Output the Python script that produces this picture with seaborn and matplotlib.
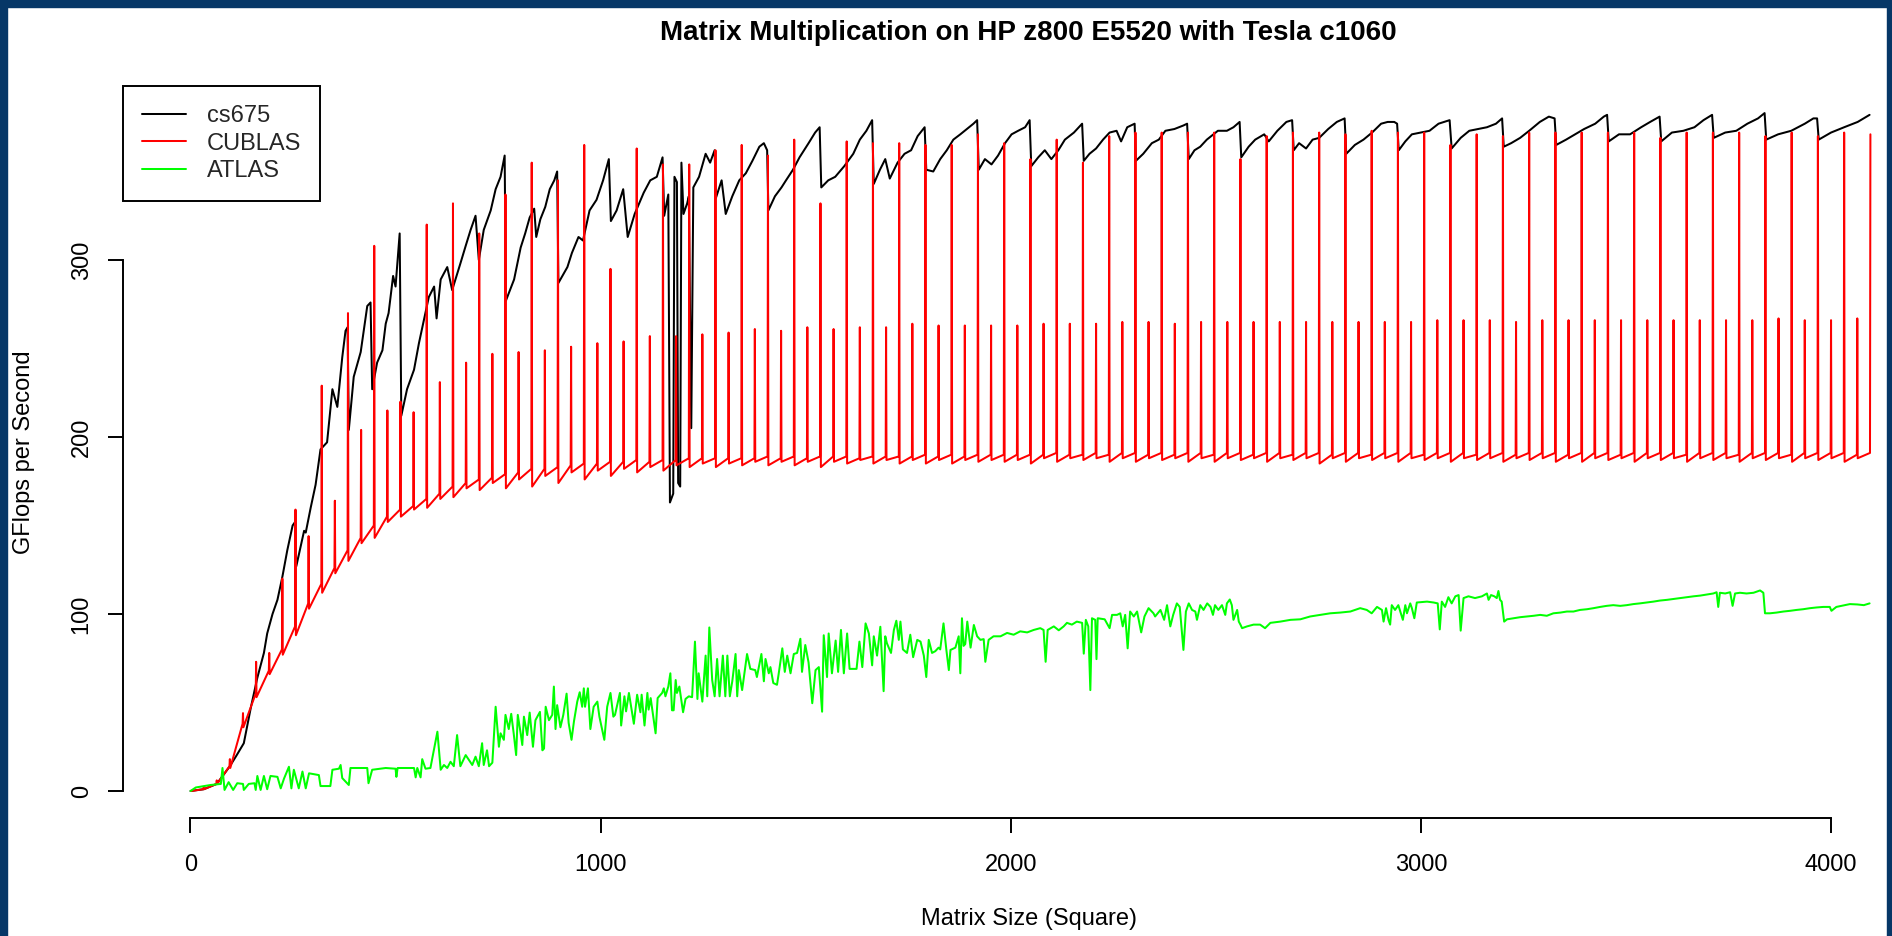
import numpy as np
import pandas as pd
import matplotlib
matplotlib.use("Agg")
import matplotlib.pyplot as plt
from matplotlib.patches import Rectangle
import seaborn as sns

# ---- data ----
title = "Matrix Multiplication on HP z800 E5520 with Tesla c1060"
series_names = ["cs675", "CUBLAS", "ATLAS"]
series_colors = ["black", "#FF0000", "#00FF00"]
x_ticks = [0, 1000, 2000, 3000, 4000]
y_ticks = [0, 100, 200, 300]

# cs675: sampled points (matrix size, GFlops)
cs675_x = [0, 32, 64, 96, 112, 130, 147, 163, 179, 187, 200, 212, 224, 236, 249, 255, 258, 277, 281, 293,
           305, 317, 333, 346, 358, 370, 378, 383, 386, 398, 415, 431, 439, 443, 455, 468, 476, 483, 494, 500,
           510, 514, 528, 545, 557, 569, 581, 594, 600, 610, 626, 638, 646, 658, 671, 683, 695, 703, 715, 732,
           744, 756, 766, 769, 789, 805, 816, 827, 838, 843, 853, 865, 876, 887, 894, 897, 919, 930, 946, 957,
           973, 990, 1006, 1020, 1025, 1039, 1055, 1066, 1083, 1105, 1121, 1137, 1151, 1155, 1165, 1169, 1177, 1180, 1186, 1189,
           1194, 1197, 1202, 1211, 1215, 1221, 1226, 1240, 1256, 1267, 1278, 1281, 1295, 1305, 1321, 1338, 1354, 1370, 1387, 1398,
           1406, 1409, 1425, 1441, 1452, 1469, 1485, 1507, 1523, 1534, 1538, 1555, 1572, 1594, 1616, 1632, 1648, 1662, 1666, 1681,
           1694, 1705, 1724, 1741, 1757, 1773, 1790, 1794, 1811, 1828, 1844, 1860, 1877, 1893, 1909, 1918, 1922, 1937, 1953, 1969,
           1986, 2002, 2018, 2035, 2046, 2050, 2067, 2083, 2099, 2116, 2132, 2154, 2174, 2178, 2192, 2208, 2225, 2241, 2258, 2269,
           2284, 2302, 2305, 2323, 2344, 2361, 2377, 2399, 2421, 2430, 2434, 2448, 2462, 2478, 2505, 2527, 2543, 2558, 2562, 2580,
           2596, 2618, 2629, 2650, 2672, 2686, 2690, 2703, 2720, 2736, 2752, 2774, 2795, 2814, 2818, 2839, 2860, 2881, 2903, 2919,
           2935, 2942, 2946, 2962, 2978, 3000, 3021, 3043, 3070, 3075, 3097, 3118, 3140, 3161, 3183, 3198, 3202, 3220, 3242, 3264,
           3290, 3312, 3326, 3330, 3354, 3376, 3398, 3425, 3446, 3454, 3458, 3483, 3510, 3537, 3559, 3582, 3586, 3612, 3640, 3667,
           3689, 3710, 3714, 3742, 3769, 3796, 3822, 3838, 3842, 3871, 3903, 3936, 3957, 3966, 3970, 4000, 4032, 4065, 4094]
cs675_y = [0, 1, 4, 14, 20, 27, 47, 64, 78, 89, 100, 108, 121, 136, 150, 152, 127, 147, 146, 160,
           173, 193, 197, 227, 217, 245, 260, 262, 204, 234, 248, 274, 276, 227, 242, 249, 264, 270, 291, 285,
           315, 212, 227, 238, 253, 266, 279, 285, 267, 289, 296, 283, 289, 298, 308, 317, 325, 300, 317, 328,
           340, 347, 359, 277, 289, 307, 315, 324, 329, 313, 323, 330, 340, 345, 350, 287, 296, 304, 313, 311,
           328, 334, 345, 357, 322, 328, 340, 313, 326, 338, 345, 347, 358, 325, 337, 163, 168, 347, 344, 174,
           172, 355, 326, 332, 336, 205, 341, 347, 360, 355, 362, 335, 345, 326, 336, 345, 349, 356, 364, 366,
           362, 328, 336, 341, 345, 351, 358, 366, 372, 375, 341, 345, 347, 353, 360, 368, 373, 379, 343, 351,
           357, 346, 355, 360, 362, 370, 375, 351, 350, 357, 362, 368, 371, 374, 377, 379, 351, 357, 354, 359,
           366, 371, 373, 375, 379, 353, 358, 362, 357, 362, 368, 372, 377, 356, 360, 363, 368, 372, 373, 367,
           375, 377, 356, 360, 366, 368, 373, 374, 376, 377, 357, 362, 364, 368, 373, 373, 375, 378, 358, 364,
           368, 371, 367, 373, 378, 379, 362, 366, 363, 368, 369, 374, 378, 380, 360, 365, 368, 372, 377, 378,
           378, 377, 362, 367, 371, 372, 373, 377, 379, 363, 369, 373, 374, 375, 377, 380, 364, 366, 369, 373,
           378, 381, 380, 365, 368, 371, 374, 377, 381, 382, 367, 371, 371, 375, 378, 381, 367, 372, 373, 375,
           379, 382, 369, 372, 373, 377, 380, 383, 368, 371, 373, 377, 380, 380, 368, 372, 375, 378, 382]

# CUBLAS: one entry per multiple of 32 (32, 64, ..., 4096)
cublas_sizes = list(range(32, 4097, 32))
cublas_peak = [2, 6, 18, 44, 73, 78, 120, 159, 144, 229, 164, 270, 204, 308, 215, 220,
               214, 320, 231, 332, 242, 315, 247, 337, 248, 355, 249, 345, 251, 365, 253, 295,
               254, 363, 257, 354, 257, 354, 258, 362, 259, 365, 261, 359, 260, 368, 262, 332,
               261, 367, 262, 366, 262, 366, 264, 365, 263, 365, 263, 371, 263, 366, 263, 357,
               264, 368, 264, 355, 264, 370, 265, 372, 265, 372, 264, 372, 265, 372, 265, 357,
               265, 370, 265, 372, 265, 372, 265, 371, 265, 373, 265, 372, 265, 372, 266, 365,
               266, 371, 266, 370, 265, 372, 266, 372, 266, 372, 266, 372, 266, 372, 266, 369,
               266, 372, 266, 372, 266, 372, 266, 370, 267, 372, 266, 370, 266, 372, 267, 371]
# value just before each spike
cublas_before = [1, 4, 14, 38, 55, 68, 80, 93, 106, 117, 126, 136, 143, 150, 155, 159,
                 161, 165, 168, 172, 174, 176, 177, 179, 180, 182, 182, 183, 184, 185, 185, 186,
                 186, 187, 186, 187, 187, 188, 188, 188, 188, 188, 188, 189, 188, 189, 188, 189,
                 189, 189, 188, 189, 189, 189, 189, 190, 189, 190, 189, 190, 190, 190, 190, 190,
                 190, 191, 190, 190, 191, 190, 191, 191, 190, 191, 190, 191, 191, 190, 191, 191,
                 190, 191, 191, 190, 191, 191, 190, 191, 191, 190, 191, 191, 191, 190, 191, 191,
                 191, 190, 191, 191, 190, 191, 191, 191, 190, 191, 191, 191, 190, 191, 191, 191,
                 191, 190, 191, 191, 191, 190, 191, 191, 191, 190, 191, 191, 191, 191, 190, 191]
# value just after each spike
cublas_after = [1, 4, 13, 36, 53, 66, 77, 88, 103, 112, 123, 130, 140, 143, 152, 155,
                159, 160, 165, 166, 171, 170, 174, 171, 176, 172, 178, 174, 180, 176, 181, 178,
                182, 180, 183, 181, 184, 183, 185, 183, 185, 184, 186, 184, 186, 184, 186, 183,
                186, 185, 187, 185, 187, 185, 187, 185, 187, 185, 187, 186, 187, 186, 187, 185,
                188, 186, 188, 187, 188, 186, 188, 186, 188, 187, 188, 186, 188, 186, 188, 187,
                188, 186, 188, 187, 188, 185, 188, 186, 188, 187, 188, 186, 188, 187, 188, 186,
                188, 187, 188, 186, 188, 187, 188, 186, 188, 186, 188, 187, 188, 186, 188, 187,
                188, 186, 188, 187, 188, 186, 188, 187, 188, 186, 188, 187, 188, 186, 188, 187]

# ATLAS: sampled points
atlas_x = [0, 13, 49, 74, 78, 83, 93, 104, 114, 128, 130, 142, 156, 159, 163, 171, 179, 187, 195, 212,
           220, 228, 240, 246, 252, 264, 273, 281, 289, 313, 317, 341, 346, 362, 366, 370, 386, 390, 431, 434,
           443, 476, 500, 502, 505, 545, 549, 553, 561, 565, 573, 585, 602, 610, 618, 626, 634, 642, 650, 658,
           671, 679, 687, 695, 703, 711, 715, 723, 728, 736, 744, 752, 756, 764, 768, 776, 782, 788, 794, 798,
           805, 809, 813, 821, 827, 835, 841, 852, 858, 862, 866, 874, 882, 886, 890, 894, 902, 909, 917, 922,
           929, 935, 943, 949, 955, 959, 962, 969, 975, 983, 992, 997, 1009, 1016, 1024, 1031, 1035, 1047, 1050, 1058,
           1062, 1069, 1081, 1089, 1097, 1100, 1107, 1114, 1117, 1122, 1126, 1134, 1139, 1150, 1154, 1158, 1165, 1170, 1174, 1178,
           1183, 1186, 1192, 1201, 1207, 1215, 1223, 1230, 1236, 1239, 1248, 1256, 1260, 1265, 1272, 1278, 1284, 1290, 1298, 1304,
           1309, 1315, 1321, 1329, 1333, 1337, 1345, 1357, 1365, 1377, 1381, 1392, 1398, 1402, 1410, 1414, 1421, 1430, 1434, 1443,
           1449, 1455, 1463, 1471, 1479, 1487, 1491, 1499, 1507, 1516, 1524, 1532, 1540, 1544, 1552, 1556, 1564, 1573, 1579, 1586,
           1593, 1601, 1607, 1617, 1624, 1631, 1638, 1646, 1654, 1662, 1666, 1674, 1682, 1690, 1694, 1698, 1708, 1715, 1721, 1727,
           1731, 1737, 1747, 1755, 1762, 1772, 1780, 1788, 1794, 1800, 1808, 1816, 1824, 1828, 1836, 1843, 1849, 1853, 1865, 1873,
           1877, 1881, 1885, 1889, 1894, 1902, 1910, 1918, 1926, 1934, 1938, 1946, 1958, 1975, 1991, 2007, 2023, 2040, 2056, 2072,
           2080, 2085, 2090, 2105, 2117, 2129, 2137, 2149, 2161, 2174, 2178, 2183, 2189, 2194, 2198, 2206, 2209, 2212, 2229, 2241,
           2247, 2259, 2267, 2273, 2279, 2285, 2291, 2300, 2308, 2318, 2326, 2336, 2348, 2352, 2365, 2374, 2381, 2389, 2396, 2405,
           2412, 2421, 2427, 2434, 2442, 2450, 2454, 2462, 2470, 2479, 2487, 2493, 2498, 2506, 2515, 2523, 2527, 2534, 2539, 2543,
           2552, 2556, 2560, 2564, 2576, 2592, 2608, 2620, 2633, 2657, 2682, 2706, 2730, 2755, 2779, 2803, 2828, 2852, 2868, 2880,
           2893, 2905, 2909, 2915, 2921, 2925, 2929, 2937, 2945, 2956, 2962, 2966, 2974, 2978, 2984, 2990, 3015, 3031, 3041, 3046,
           3051, 3059, 3067, 3075, 3084, 3092, 3097, 3104, 3116, 3132, 3149, 3161, 3165, 3171, 3179, 3185, 3189, 3193, 3197, 3203,
           3210, 3226, 3242, 3258, 3275, 3291, 3307, 3323, 3340, 3356, 3372, 3388, 3405, 3421, 3437, 3453, 3469, 3486, 3502, 3518,
           3534, 3551, 3567, 3583, 3600, 3616, 3632, 3648, 3665, 3681, 3697, 3713, 3721, 3725, 3729, 3742, 3754, 3760, 3766, 3778,
           3794, 3811, 3827, 3835, 3839, 3851, 3867, 3884, 3900, 3916, 3932, 3949, 3965, 3981, 3997, 4001, 4013, 4029, 4046, 4064,
           4080, 4094]
atlas_y = [0, 2, 3.4, 4, 13, 0.6, 5, 0.6, 4.4, 4, 0.6, 4, 4.4, 0.6, 8.5, 0.6, 8.5, 1, 8.5, 8,
           1.5, 7, 13.7, 1.5, 12, 1.5, 11, 1.5, 10, 9, 2.8, 2.8, 12, 12.6, 14.7, 7.3, 3.4, 13, 13, 4.4,
           12, 13, 12.6, 8, 13, 13, 7.7, 13, 7.7, 18, 12.6, 13, 33.5, 12, 14.7, 13, 16.5, 14, 31.6, 14,
           20.3, 17.5, 14.7, 19.4, 14, 27, 14.7, 23, 14, 16, 47.6, 25, 32.6, 28.9, 43, 35, 43.6, 32.6, 20.3, 43,
           32.6, 26, 42, 31.6, 44.3, 25, 40, 44.7, 23, 24, 47.6, 40, 43, 59, 35, 48.5, 36, 43, 55, 38.5,
           28.9, 39.4, 50.5, 55.8, 47.6, 58, 47.6, 58, 35, 47.6, 50.5, 42, 28.9, 47.6, 55.4, 42, 43, 55.4, 37, 53.5,
           45, 55.4, 38, 54.4, 44.5, 54.4, 37, 55.4, 46, 52.5, 46, 32.6, 52.5, 55.4, 58, 53.5, 59, 66.5, 45.6, 45.6,
           62.7, 55.4, 59, 44.5, 52, 53.5, 53, 84.4, 52, 66.5, 50.5, 76.5, 53.5, 92.4, 62.7, 53.5, 74.6, 53.5, 76.5, 53.5,
           76.5, 53.5, 62, 77.4, 53.5, 68.3, 57, 77.4, 69, 68.3, 64.4, 77.4, 62, 74.6, 66.5, 70, 61, 60, 66, 80.6,
           67.3, 76.5, 66.5, 77.4, 78, 86, 67.3, 82.5, 72.6, 49.6, 68.3, 70, 44.8, 88, 64.4, 89, 66.5, 85, 67.3, 91,
           66.5, 89, 69, 69, 69, 84.4, 70, 94.7, 89, 71, 87.4, 76.5, 92.8, 56.4, 87.4, 83.5, 78, 91, 96.2, 85.4,
           95.7, 80, 78, 88.3, 75.6, 85.4, 84.4, 76.5, 64.4, 85.4, 78, 79, 81, 80, 94.7, 79.7, 68.3, 79.7, 81, 87.4,
           66.5, 97.6, 82, 83, 95.7, 81, 93.8, 87.4, 85.4, 85.8, 73, 85.4, 87.4, 87.4, 89.3, 88.3, 90.2, 89.6, 91, 92,
           91, 73, 91, 93, 90.8, 93, 95, 94, 95.7, 95, 77.6, 96.7, 93, 57, 97.6, 96.7, 74.5, 97.6, 97, 92,
           99.5, 99.5, 100.4, 93, 99.5, 80.6, 101.4, 98.6, 101.4, 89.6, 98.6, 103.3, 100.4, 98.6, 102.3, 96.7, 105, 93, 99.5, 106,
           104, 79.7, 101.4, 106, 102.3, 101.4, 96.7, 105, 102.3, 106, 104, 99.5, 105, 102.3, 105, 99.5, 106, 108.2, 105, 96.7,
           102.3, 95.7, 94, 92, 93, 94, 94, 92, 95, 95.7, 96.7, 97, 98.6, 99.5, 100.4, 100.8, 101.4, 103.3, 102.3, 100.4,
           104, 102.3, 95.7, 103.3, 96.7, 94, 105, 102.3, 105, 96.7, 105, 100.4, 106, 103.3, 97.6, 106.5, 107, 106.5, 106, 91.3,
           107, 104, 109.5, 106, 110, 110.7, 90.6, 109, 110, 109, 110, 111.6, 108, 110.7, 110, 109, 113, 108, 107, 95.7,
           97, 97.6, 98.2, 98.6, 99, 99.5, 99, 100.4, 100.8, 101.4, 101.4, 102.3, 102.7, 103.3, 104, 104.6, 105, 104.6, 105, 105.6,
           106, 106.5, 107, 107.6, 108, 108.5, 109, 109.5, 110, 110.4, 111, 111.6, 112.3, 104, 112, 111.6, 112.3, 104.6, 111.6, 112,
           111.6, 112, 113.3, 112, 100.4, 100.4, 100.8, 101.4, 101.8, 102.3, 102.7, 103.3, 103.7, 104, 104, 101.8, 104, 104.8, 105.6, 105.4,
           105, 106]

# ---- build tables ----
df_cs675 = pd.DataFrame({"size": cs675_x, "gflops": cs675_y})

# each spike sits at a multiple of 32, the neighbours are the sizes next to it
cub_x, cub_y = [1], [0]
for s, b, p, a in zip(cublas_sizes, cublas_before, cublas_peak, cublas_after):
    cub_x += [s - 1, s, s + 1]
    cub_y += [b, p, a]
df_cublas = pd.DataFrame({"size": cub_x[:-1], "gflops": cub_y[:-1]})

df_atlas = pd.DataFrame({"size": atlas_x, "gflops": atlas_y})

# ---- style ----
sns.set_style("ticks")
plt.rcParams["font.family"] = ["Liberation Sans", "DejaVu Sans"]

W, H = 1892, 936
fig = plt.figure(figsize=(W / 100, H / 100), dpi=100)
fig.patch.set_facecolor("white")

# plot region in pixels (R style, extends past the right edge)
left_px, right_px, bottom_px, top_px = 123.3, 1937.6, 818, 86
ax = fig.add_axes([left_px / W, (H - bottom_px) / H,
                   (right_px - left_px) / W, (bottom_px - top_px) / H])

lw = 1.45
for df, name, col in zip([df_cs675, df_cublas, df_atlas], series_names, series_colors):
    sns.lineplot(data=df, x="size", y="gflops", color=col, linewidth=lw,
                 estimator=None, sort=False, ax=ax, label=name)

ax.set_xlim(-163.84, 4259.84)
ax.set_ylim(-15.25, 398.3)

ax.spines["top"].set_visible(False)
ax.spines["right"].set_visible(False)
ax.spines["left"].set_bounds(0, 300)
ax.spines["bottom"].set_bounds(0, 4000)
for sp in ["left", "bottom"]:
    ax.spines[sp].set_linewidth(1.4)
    ax.spines[sp].set_color("black")

ax.set_xticks(x_ticks)
ax.set_yticks(y_ticks)
ax.set_xticklabels([str(t) for t in x_ticks])
ax.set_yticklabels([str(t) for t in y_ticks], rotation=90, va="center")
ax.tick_params(axis="both", length=11, width=1.4, color="black",
               labelsize=17, labelcolor="black", direction="out")
ax.tick_params(axis="x", pad=15)
ax.tick_params(axis="y", pad=11)

ax.set_xlabel("Matrix Size (Square)", fontsize=17, color="black")
ax.set_ylabel("GFlops per Second", fontsize=17, color="black")
ax.xaxis.set_label_coords((1029 - left_px) / (right_px - left_px), (bottom_px - 919) / (bottom_px - top_px))
ax.xaxis.label.set_va("center")
ax.yaxis.set_label_coords((24 - left_px) / (right_px - left_px), 0.5)
ax.yaxis.label.set_va("center")

ax.set_title(title, fontsize=20, fontweight="bold", color="black",
             x=(1028 - left_px) / (right_px - left_px),
             y=(bottom_px - 33) / (bottom_px - top_px), va="center", pad=0)

leg = ax.legend(loc="upper left", bbox_to_anchor=(0, 1), borderaxespad=0,
                frameon=True, fancybox=False, framealpha=1, edgecolor="black",
                fontsize=17, handlelength=1.85, handletextpad=0.9,
                borderpad=0.8, labelspacing=0.24)
leg.get_frame().set_linewidth(1.4)
for line in leg.get_lines():
    line.set_linewidth(lw)

# dark blue page border around the picture
border = "#063767"
fig.patches.append(Rectangle((0, 0), 7 / W, 1, transform=fig.transFigure, color=border, zorder=10))
fig.patches.append(Rectangle((0, 1 - 7 / H), 1, 7 / H, transform=fig.transFigure, color=border, zorder=10))
fig.patches.append(Rectangle((1 - 5 / W, 0), 5 / W, 1, transform=fig.transFigure, color=border, zorder=10))

fig.savefig("out.png", dpi=100, facecolor="white")
